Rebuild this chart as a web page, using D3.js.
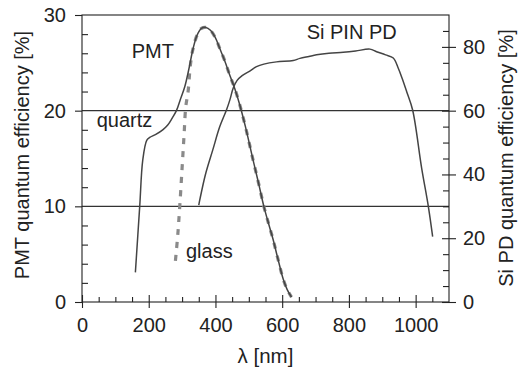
<!DOCTYPE html>
<html>
<head>
<meta charset="utf-8">
<script src="https://cdn.jsdelivr.net/npm/d3@7"></script>
<style>
  body { margin: 0; background: #fff; }
  svg text { font-family: "Liberation Sans", Arial, sans-serif; fill: #222; }
</style>
</head>
<body>
<div id="chart"></div>
<script>
// PMT quartz window (left axis, %)
const quartzWl = [160, 173, 182, 194, 203, 220, 242, 257, 270, 283, 295, 308, 320, 333, 345, 358, 371, 385, 400, 413, 428, 443, 458, 473, 490, 513, 530, 545, 560, 573, 588, 603, 615, 628];
const quartzQe = [3.1, 10, 14.8, 16.9, 17.2, 17.5, 18, 18.5, 19.2, 20, 21.2, 22.5, 24.3, 26.5, 27.9, 28.6, 28.7, 28.4, 27.6, 26.5, 25.2, 23.7, 22.3, 20.6, 18.3, 14.8, 12.3, 10, 8.1, 6.5, 4.4, 2.4, 1.3, 0.5];

// PMT glass window (left axis, %)
const glassWl = [280, 287, 293, 300, 306, 311, 318, 325, 333, 345, 358, 371, 385, 400, 413, 428, 443, 458, 473, 490, 513, 530, 545, 560, 573, 588, 603, 615, 628];
const glassQe = [4.3, 7, 10, 14, 17.5, 20.4, 22, 24.8, 26.5, 27.9, 28.6, 28.7, 28.4, 27.6, 26.5, 25.2, 23.7, 22.3, 20.6, 18.3, 14.8, 12.3, 10, 8.1, 6.5, 4.4, 2.4, 1.3, 0.5];

// Si PIN photodiode (right axis, %)
const siWl = [350, 353, 370, 392, 413, 433, 443, 453, 465, 480, 504, 523, 545, 583, 633, 653, 680, 703, 740, 783, 820, 863, 883, 910, 933, 948, 960, 973, 991, 1018, 1038, 1051];
const siQe = [30.4, 32, 40, 47.7, 55, 60.2, 63.3, 67, 69.5, 71, 72.5, 73.8, 74.6, 75.3, 75.7, 76.4, 77, 77.5, 78, 78.3, 78.7, 79.3, 78.5, 77.5, 76.5, 73.3, 70, 66, 60.2, 42, 30, 20.5];

const xTicks = [0, 200, 400, 600, 800, 1000];
const leftTicks = [0, 10, 20, 30];
const rightTicks = [0, 20, 40, 60, 80];
const gridLines = [10, 20];

const margin = {top: 15, right: 69, bottom: 68, left: 82};
const W = 518, H = 370;
const width = W - margin.left - margin.right;
const height = H - margin.top - margin.bottom;

const svg = d3.select('#chart').append('svg')
    .attr('width', W)
    .attr('height', H)
  .append('g')
    .attr('transform', `translate(${margin.left},${margin.top})`);

const x = d3.scaleLinear().domain([0, 1100]).range([0, width]);
const yL = d3.scaleLinear().domain([0, 30]).range([height, 0]);
const yR = d3.scaleLinear().domain([0, 90]).range([height, 0]);

const axisColor = '#222';
const font = '"Liberation Sans", Arial, sans-serif';

// grid lines
svg.selectAll('.grid').data(gridLines).enter().append('line')
    .attr('x1', 0).attr('x2', width)
    .attr('y1', d => yL(d)).attr('y2', d => yL(d))
    .attr('stroke', '#333').attr('stroke-width', 1.1);

// frame
svg.append('rect')
    .attr('width', width).attr('height', height)
    .attr('fill', 'none').attr('stroke', axisColor).attr('stroke-width', 1.1);

// bottom axis: major ticks cross, minor inward
svg.append('g')
    .attr('transform', `translate(0,${height})`)
    .call(d3.axisBottom(x).tickValues(d3.range(50, 1100, 50).filter(d => d % 200 !== 0)).tickSize(-5).tickFormat(''))
    .call(g => g.select('.domain').remove());
svg.append('g')
    .attr('transform', `translate(0,${height})`)
    .call(d3.axisBottom(x).tickValues(xTicks).tickSize(6).tickPadding(10).tickFormat(d3.format('d')))
    .call(g => g.select('.domain').remove())
    .call(g => g.selectAll('.tick line').attr('y1', -7))
    .call(g => g.selectAll('text').attr('font-size', 20).attr('font-family', font));

// left axis
svg.append('g')
    .call(d3.axisLeft(yL).tickValues(d3.range(2, 30, 2).filter(d => d % 10 !== 0)).tickSize(-6).tickFormat(''))
    .call(g => g.select('.domain').remove());
svg.append('g')
    .call(d3.axisLeft(yL).tickValues(leftTicks).tickSize(7).tickPadding(9))
    .call(g => g.select('.domain').remove())
    .call(g => g.selectAll('text').attr('font-size', 20).attr('font-family', font));

// right axis
svg.append('g')
    .attr('transform', `translate(${width},0)`)
    .call(d3.axisRight(yR).tickValues(d3.range(5, 90, 5).filter(d => d % 20 !== 0)).tickSize(-6).tickFormat(''))
    .call(g => g.select('.domain').remove());
svg.append('g')
    .attr('transform', `translate(${width},0)`)
    .call(d3.axisRight(yR).tickValues(rightTicks).tickSize(7).tickPadding(7))
    .call(g => g.select('.domain').remove())
    .call(g => g.selectAll('.tick line').attr('x1', -7))
    .call(g => g.selectAll('text').attr('font-size', 20).attr('font-family', font));

svg.selectAll('.tick line').attr('stroke', axisColor).attr('stroke-width', 1.1);

// curves
const lineL = d3.line().x(d => x(d[0])).y(d => yL(d[1])).curve(d3.curveCatmullRom.alpha(0.5));
const lineR = d3.line().x(d => x(d[0])).y(d => yR(d[1])).curve(d3.curveCatmullRom.alpha(0.5));

svg.append('path')
    .datum(d3.zip(glassWl, glassQe))
    .attr('d', lineL)
    .attr('fill', 'none')
    .attr('stroke', '#8a8a8a')
    .attr('stroke-width', 3.2)
    .attr('stroke-dasharray', '6,7');

svg.append('path')
    .datum(d3.zip(quartzWl, quartzQe))
    .attr('d', lineL)
    .attr('fill', 'none')
    .attr('stroke', '#444')
    .attr('stroke-width', 1.5);

svg.append('path')
    .datum(d3.zip(siWl, siQe))
    .attr('d', lineR)
    .attr('fill', 'none')
    .attr('stroke', '#444')
    .attr('stroke-width', 1.5);

// curve labels
const labels = [
  {t: 'PMT', x: 131.7, y: 58},
  {t: 'quartz', x: 96.7, y: 127},
  {t: 'glass', x: 186, y: 258},
  {t: 'Si PIN PD', x: 306.7, y: 38.5}
];
svg.selectAll('.lbl').data(labels).enter().append('text')
    .attr('x', d => d.x - margin.left)
    .attr('y', d => d.y - margin.top)
    .attr('font-size', 20)
    .text(d => d.t);

// axis titles
svg.append('text')
    .attr('x', width / 2)
    .attr('y', 363 - margin.top)
    .attr('text-anchor', 'middle')
    .attr('font-size', 20.5)
    .text('λ [nm]');

svg.append('text')
    .attr('transform', `translate(${29 - margin.left},${155 - margin.top}) rotate(-90)`)
    .attr('text-anchor', 'middle')
    .attr('font-size', 20)
    .text('PMT quantum efficiency [%]');

svg.append('text')
    .attr('transform', `translate(${513 - margin.left},${158 - margin.top}) rotate(-90)`)
    .attr('text-anchor', 'middle')
    .attr('font-size', 20)
    .text('Si PD quantum efficiency [%]');
</script>
</body>
</html>
